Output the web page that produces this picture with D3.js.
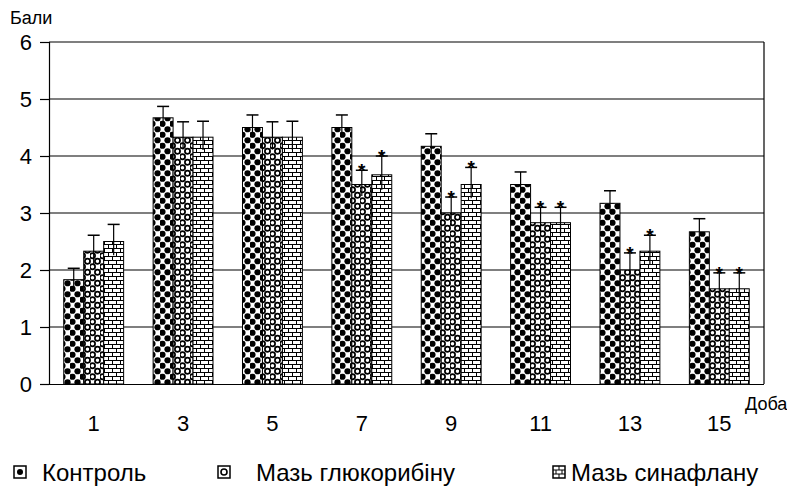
<!DOCTYPE html>
<html>
<head>
<meta charset="utf-8">
<script src="https://cdn.jsdelivr.net/npm/d3@7"></script>
<style>
  body { margin: 0; background: #fff; }
  svg text { font-family: Arial, "Liberation Sans", sans-serif; fill: #000; }
</style>
</head>
<body>
<svg id="chart" width="787" height="493"></svg>
<script>
// data
const days = ['1', '3', '5', '7', '9', '11', '13', '15'];
const seriesNames = ['Контроль', 'Мазь глюкорибіну', 'Мазь синафлану'];
const control   = [1.83, 4.67, 4.5, 4.5, 4.17, 3.5, 3.17, 2.67];
const glucorib  = [2.33, 4.33, 4.33, 3.5, 3.0, 2.83, 2.0, 1.67];
const sinaflan  = [2.5, 4.33, 4.33, 3.67, 3.5, 2.83, 2.33, 1.67];
const errControl  = [0.2, 0.2, 0.22, 0.22, 0.22, 0.22, 0.22, 0.23];
const errGlucorib = [0.28, 0.27, 0.27, 0.25, 0.28, 0.27, 0.3, 0.28];
const errSinaflan = [0.3, 0.28, 0.28, 0.33, 0.3, 0.27, 0.28, 0.28];
const sigGlucorib = [0, 0, 0, 1, 1, 1, 1, 1];
const sigSinaflan = [0, 0, 0, 1, 1, 1, 1, 1];
const yTicks = [0, 1, 2, 3, 4, 5, 6];

const values = [control, glucorib, sinaflan];
const errors = [errControl, errGlucorib, errSinaflan];
const stars = [days.map(() => 0), sigGlucorib, sigSinaflan];

const svg = d3.select('#chart');
const margin = { left: 49, right: 23, top: 42, bottom: 109 };
const W = 787, H = 493;

const x = d3.scaleBand().domain(days).range([margin.left, W - margin.right]).paddingInner(0.33).paddingOuter(0.165);
const xs = d3.scaleBand().domain([0, 1, 2]).range([0, x.bandwidth()]);
const y = d3.scaleLinear().domain([0, 6]).range([H - margin.bottom, margin.top]);

// patterns
const defs = svg.append('defs');
const spots = [[2.5, 2.75], [7.5, 8.25], [-2.5, 8.25], [12.5, 8.25], [2.5, 13.75], [7.5, -2.75]];
const pDots = defs.append('pattern').attr('id', 'pDots').attr('patternUnits', 'userSpaceOnUse')
  .attr('width', 10).attr('height', 11);
pDots.append('rect').attr('width', 10).attr('height', 11).attr('fill', '#fff');
spots.forEach(c =>
  pDots.append('circle').attr('cx', c[0]).attr('cy', c[1]).attr('r', 3.1).attr('fill', '#000'));

const pRings = defs.append('pattern').attr('id', 'pRings').attr('patternUnits', 'userSpaceOnUse')
  .attr('width', 10).attr('height', 11);
pRings.append('rect').attr('width', 10).attr('height', 11).attr('fill', '#fff');
spots.forEach(c =>
  pRings.append('circle').attr('cx', c[0]).attr('cy', c[1]).attr('r', 2.6)
    .attr('fill', 'none').attr('stroke', '#000').attr('stroke-width', 1.7));

const pBrick = defs.append('pattern').attr('id', 'pBrick').attr('patternUnits', 'userSpaceOnUse')
  .attr('width', 8).attr('height', 8);
pBrick.append('rect').attr('width', 8).attr('height', 8).attr('fill', '#fff');
pBrick.append('path').attr('d', 'M0,0.5H8M0,4.5H8M0.5,0.5V4.5M4.5,4.5V8.5')
  .attr('stroke', '#000').attr('stroke-width', 1).attr('fill', 'none');

const fills = ['url(#pDots)', 'url(#pRings)', 'url(#pBrick)'];

// gridlines + frame
svg.append('g').selectAll('line').data(yTicks.slice(1)).join('line')
  .attr('x1', margin.left).attr('x2', W - margin.right)
  .attr('y1', d => y(d)).attr('y2', d => y(d))
  .attr('stroke', '#000').attr('stroke-width', 1.2);
svg.append('line').attr('x1', W - margin.right).attr('x2', W - margin.right)
  .attr('y1', y(6)).attr('y2', y(0)).attr('stroke', '#000').attr('stroke-width', 1.2);

// y axis
const yAxis = svg.append('g').attr('transform', `translate(${margin.left},0)`)
  .call(d3.axisLeft(y).tickValues(yTicks).tickFormat(d3.format('d')).tickSize(9).tickPadding(8));
yAxis.select('.domain').attr('stroke-width', 1.2);
yAxis.selectAll('.tick line').attr('stroke-width', 1.2);
yAxis.selectAll('text').style('font-size', '22px').attr('font-family', null);

// bars
values.forEach((vals, s) => {
  svg.append('g').selectAll('rect').data(vals).join('rect')
    .attr('x', (d, i) => x(days[i]) + xs(s))
    .attr('y', d => y(d))
    .attr('width', xs.bandwidth())
    .attr('height', d => y(0) - y(d))
    .attr('fill', fills[s])
    .attr('stroke', '#000').attr('stroke-width', 1);
});

// error bars + significance stars
values.forEach((vals, s) => {
  const g = svg.append('g');
  vals.forEach((v, i) => {
    const cx = x(days[i]) + xs(s) + xs.bandwidth() / 2;
    const e = errors[s][i];
    g.append('line').attr('x1', cx).attr('x2', cx).attr('y1', y(v - e * 0.8)).attr('y2', y(v + e))
      .attr('stroke', '#000').attr('stroke-width', 1.2);
    g.append('line').attr('x1', cx - 6).attr('x2', cx + 6).attr('y1', y(v + e)).attr('y2', y(v + e))
      .attr('stroke', '#000').attr('stroke-width', 1.5);
    if (stars[s][i]) {
      g.append('text').attr('x', cx).attr('y', y(v + e) + 7).attr('text-anchor', 'middle')
        .style('font-size', '19px').style('font-weight', 'bold').text('*');
    }
  });
});

// x axis
const xAxis = svg.append('g').attr('transform', `translate(0,${y(0)})`)
  .call(d3.axisBottom(x).tickSize(0).tickPadding(31));
xAxis.select('.domain').attr('d', `M${margin.left - 7},0.5H${W - margin.right}`).attr('stroke-width', 1.2);
xAxis.selectAll('text').style('font-size', '22px').attr('font-family', null);

// axis titles
svg.append('text').attr('x', 10).attr('y', 24).style('font-size', '18px').text('Бали');
svg.append('text').attr('x', 745).attr('y', 410).style('font-size', '18px').text('Доба');

// legend
const legX = [14, 218, 553];
const legTextX = [42, 256, 571];
seriesNames.forEach((name, s) => {
  const lx = legX[s], ly = 466;
  svg.append('rect').attr('x', lx).attr('y', ly).attr('width', 12).attr('height', 12)
    .attr('fill', '#fff').attr('stroke', '#000').attr('stroke-width', 1.5);
  if (s === 0) {
    svg.append('circle').attr('cx', lx + 6).attr('cy', ly + 6).attr('r', 3).attr('fill', '#000');
  } else if (s === 1) {
    svg.append('circle').attr('cx', lx + 6).attr('cy', ly + 6).attr('r', 3)
      .attr('fill', 'none').attr('stroke', '#000').attr('stroke-width', 1.6);
  } else {
    svg.append('path')
      .attr('d', `M${lx},${ly + 4}H${lx + 12}M${lx},${ly + 8}H${lx + 12}M${lx + 6},${ly}V${ly + 4}M${lx + 3},${ly + 4}V${ly + 8}M${lx + 9},${ly + 4}V${ly + 8}M${lx + 6},${ly + 8}V${ly + 12}`)
      .attr('stroke', '#000').attr('stroke-width', 1).attr('fill', 'none');
  }
  svg.append('text').attr('x', legTextX[s]).attr('y', 481).style('font-size', '24px').text(name);
});
</script>
</body>
</html>
